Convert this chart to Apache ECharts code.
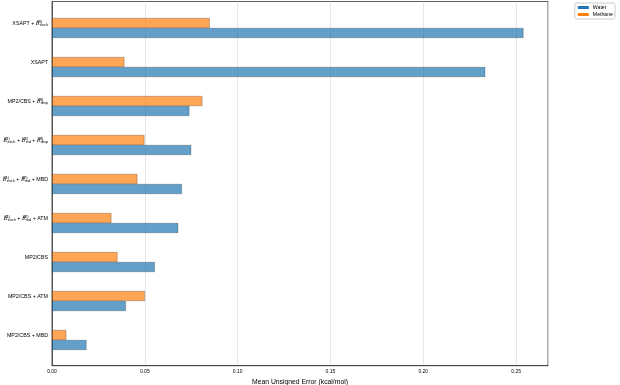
<!DOCTYPE html>
<html><head><meta charset="utf-8">
<script src="https://cdn.jsdelivr.net/npm/echarts@6/dist/echarts.min.js"></script>
<style>html,body{margin:0;padding:0;background:#fff}#c{width:620px;height:385px}</style>
</head><body><div id="c"></div>
<script>
// top-to-bottom order
const categories = [
  "{t|XSAPT + }{e|E}{sup|(1)}{sub|exch}",
  "{t|XSAPT}",
  "{t|MP2/CBS + }{e|E}{sup|(3)}{sub|disp}",
  "{e|E}{sup|(1)}{sub|exch}{t| + }{e|E}{sup|(2)}{sub|ind}{t| + }{e|E}{sup|(3)}{sub|disp}",
  "{e|E}{sup|(1)}{sub|exch}{t| + }{e|E}{sup|(2)}{sub|ind}{t| + MBD}",
  "{e|E}{sup|(1)}{sub|exch}{t| + }{e|E}{sup|(2)}{sub|ind}{t| + ATM}",
  "{t|MP2/CBS}",
  "{t|MP2/CBS + ATM}",
  "{t|MP2/CBS + MBD}"
];
const water   = [0.254, 0.2334, 0.074, 0.075, 0.070, 0.068, 0.0554, 0.0398, 0.0186];
const methane = [0.085, 0.039, 0.081, 0.0498, 0.046, 0.032, 0.0353, 0.050, 0.0077];
const xTicks = [0, 0.05, 0.10, 0.15, 0.20, 0.25];
const xMax = 0.2672;

const chart = echarts.init(document.getElementById('c'), null, {renderer:'canvas'});
const font = 'Liberation Sans, Arial, sans-serif';
const rich = {
  t:{fontSize:5.3, color:'#000', fontFamily:font, verticalAlign:'middle'},
  e:{fontSize:5.8, color:'#000', fontFamily:'DejaVu Serif', fontStyle:'italic', verticalAlign:'middle'},
  sup:{fontSize:3.8, color:'#000', fontFamily:font, verticalAlign:'top', width:0, align:'left', padding:[0,0,3,0]},
  sub:{fontSize:3.8, color:'#000', fontFamily:font, verticalAlign:'bottom', padding:[3,0,0,0]}
};
chart.setOption({
  animation:false,
  textStyle:{fontFamily:font},
  legend:{
    data:[{name:'Water', itemStyle:{color:'#1f77b4', borderWidth:0}},
          {name:'Methane', itemStyle:{color:'#ff7f0e', borderWidth:0}}],
    right:5, top:3, orient:'vertical',
    itemWidth:11, itemHeight:3, itemGap:2,
    borderColor:'#ccc', borderWidth:1, borderRadius:2, padding:[2,2,2,3],
    textStyle:{fontSize:5.2, color:'#000', padding:[0,0,0,-1]},
    icon:'rect'
  },
  grid:[
    {left:52, right:72, top:1.5, bottom:19.3, outerBoundsMode:'none', containLabel:false,
     show:true, borderColor:'#333', borderWidth:0.8, backgroundColor:'transparent'},
    {left:52, right:72, top:8.5, height:351, outerBoundsMode:'none', containLabel:false, show:false}
  ],
  xAxis:[{
    gridIndex:0, type:'value', min:0, max:xMax, interval:0.05,
    name:'Mean Unsigned Error (kcal/mol)', nameLocation:'middle', nameGap:10,
    nameTextStyle:{fontSize:6.8, color:'#000'},
    axisLine:{show:true, lineStyle:{color:'#333', width:0.8}},
    axisTick:{show:false},
    axisLabel:{fontSize:5, color:'#000', margin:3, formatter:v=>v.toFixed(2), showMaxLabel:false},
    splitLine:{show:true, lineStyle:{color:'#e0e0e0', width:0.8}}
  },{
    gridIndex:1, type:'value', min:0, max:xMax, show:false, splitLine:{show:false}
  }],
  yAxis:[{
    gridIndex:0, type:'value', min:0, max:1,
    axisLine:{show:true, lineStyle:{color:'#333', width:0.8}},
    axisTick:{show:false}, axisLabel:{show:false}, splitLine:{show:false}
  },{
    gridIndex:1, type:'category', data:categories, inverse:true,
    axisLine:{show:false}, axisTick:{show:false},
    axisLabel:{margin:4, rich:rich, formatter:v=>v, fontSize:5.3, color:'#000', padding:[0,0,9,0]},
    splitLine:{show:false}
  }],
  series:[
    {name:'Methane', type:'bar', xAxisIndex:1, yAxisIndex:1, data:methane, barWidth:10, barGap:'0%',
     itemStyle:{color:'rgba(255,127,14,0.7)', borderColor:'rgba(0,0,0,0.45)', borderWidth:0.5}},
    {name:'Water', type:'bar', xAxisIndex:1, yAxisIndex:1, data:water, barWidth:10, barGap:'0%',
     itemStyle:{color:'rgba(31,119,180,0.7)', borderColor:'rgba(0,0,0,0.45)', borderWidth:0.5}}
  ]
});
</script></body></html>
